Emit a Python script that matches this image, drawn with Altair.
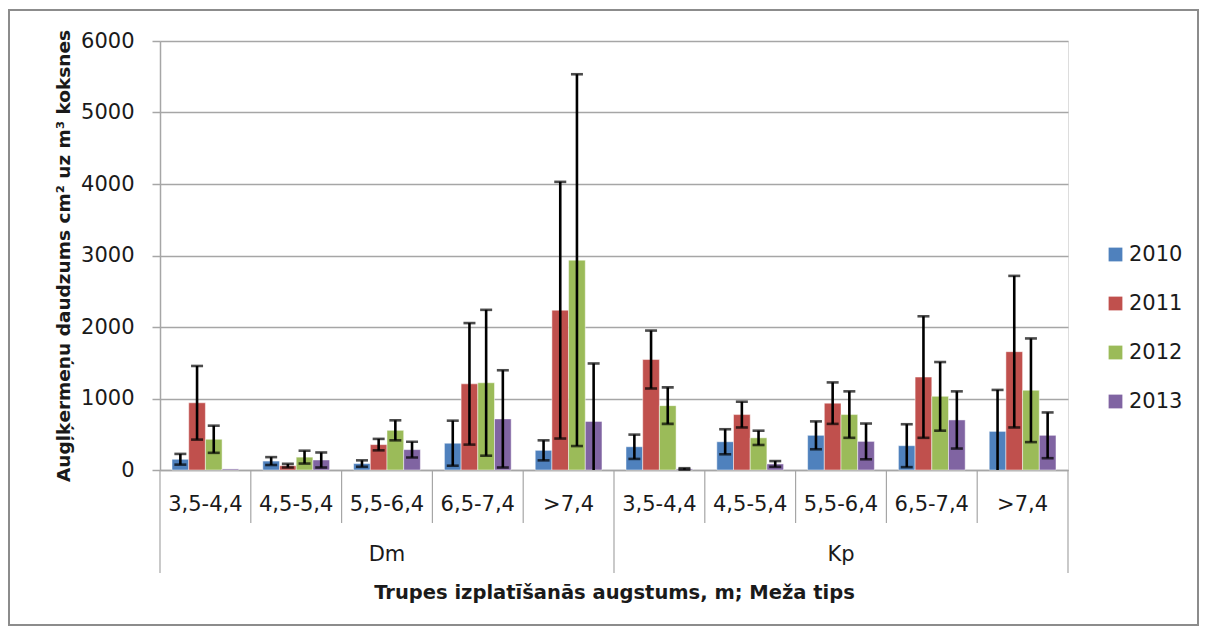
import altair as alt
import pandas as pd

groups = ["Dm", "Kp"]
heights = ["3,5-4,4", "4,5-5,4", "5,5-6,4", "6,5-7,4", ">7,4"]
years = ["2010", "2011", "2012", "2013"]
colors = ["#4F81BD", "#C0504D", "#9BBB59", "#8064A2"]

# values per year: Dm (5 heights) then Kp (5 heights)
vals = {
    "2010": [150, 125, 90, 375, 275, 325, 395, 485, 340, 540],
    "2011": [940, 60, 355, 1205, 2235, 1545, 775, 935, 1300, 1655],
    "2012": [430, 180, 555, 1220, 2935, 900, 450, 775, 1030, 1115],
    "2013": [15, 140, 285, 715, 680, 15, 85, 400, 700, 485],
}
errs = {
    "2010": [75, 55, 45, 315, 140, 170, 175, 195, 300, 580],
    "2011": [515, 25, 80, 850, 1795, 405, 180, 290, 850, 1060],
    "2012": [190, 90, 140, 1020, 2600, 255, 100, 325, 480, 725],
    "2013": [0, 105, 110, 680, 810, 10, 40, 250, 400, 320],
}

y_ticks = [0, 1000, 2000, 3000, 4000, 5000, 6000]

cats = [f"{g} {h}" for g in groups for h in heights]
cat_group = [g for g in groups for h in heights]
cat_height = [h for g in groups for h in heights]

rows = []
for y in years:
    for i, c in enumerate(cats):
        rows.append({"cat": c, "year": y, "v": vals[y][i], "e": errs[y][i]})
df = pd.DataFrame(rows)

cat_df = pd.DataFrame({"cat": cats, "label": cat_height, "group": cat_group,
                       "idx": list(range(len(cats)))})

W, H = 908, 429
FONT = "DejaVu Sans"
TXT = "#1a1a1a"
GRID = "#a6a6a6"

xscale = alt.Scale(domain=cats, paddingInner=0, paddingOuter=0)

x_enc = alt.X("cat:N", sort=cats, scale=xscale,
              axis=alt.Axis(labels=False, ticks=False, grid=False, domain=True,
                            domainColor=GRID, domainWidth=1.5,
                            title="Trupes izplatīšanās  augstums, m; Meža tips",
                            titleFont=FONT, titleFontSize=19.5, titleFontWeight="bold",
                            titleColor=TXT, titlePadding=113))
xo = alt.XOffset("year:N", sort=years, scale=alt.Scale(domain=years, paddingOuter=0.72, paddingInner=0))

y_enc = alt.Y("v:Q", scale=alt.Scale(domain=[0, 6000], nice=False),
              axis=alt.Axis(values=y_ticks, format="d", grid=True, gridColor=GRID, gridWidth=1.5,
                            domainColor=GRID, domainWidth=1.5, tickColor=GRID, tickWidth=1.5,
                            tickSize=8, labelFont=FONT, labelFontSize=21, labelColor=TXT,
                            labelPadding=18,
                            title="Augļķermeņu daudzums cm² uz m³ koksnes",
                            titleFont=FONT, titleFontSize=18.5, titleFontWeight="bold",
                            titleColor=TXT, titleX=-97, titleY=H / 2, titleAngle=-90,
                            titleAlign="center", titleBaseline="middle"))

base = alt.Chart(df)

bars = base.mark_bar(stroke="white", strokeWidth=0.8, strokeOpacity=0.6).encode(
    x=x_enc, xOffset=xo, y=y_enc,
    color=alt.Color("year:N", sort=years,
                    scale=alt.Scale(domain=years, range=colors),
                    legend=alt.Legend(title=None, orient="none", legendX=945, legendY=203,
                                      symbolType="square", symbolSize=190,
                                      symbolStrokeWidth=0, labelFont=FONT,
                                      labelFontSize=21, labelColor=TXT,
                                      rowPadding=27, labelOffset=3)),
)

err_base = base.transform_filter("datum.e > 0").transform_calculate(
    lo="max(0, datum.v - datum.e)", hi="datum.v + datum.e")

err_rule = err_base.mark_rule(color="black", strokeWidth=2.6).encode(
    x=alt.X("cat:N", sort=cats, scale=xscale), xOffset=xo,
    y=alt.Y("lo:Q"), y2="hi:Q")
cap_hi = err_base.mark_tick(color="black", thickness=2.6, size=12, orient="horizontal").encode(
    x=alt.X("cat:N", sort=cats, scale=xscale), xOffset=xo, y=alt.Y("hi:Q"))
cap_lo = err_base.transform_filter("datum.v - datum.e > 0").mark_tick(
    color="black", thickness=2.6, size=12, orient="horizontal").encode(
    x=alt.X("cat:N", sort=cats, scale=xscale), xOffset=xo, y=alt.Y("lo:Q"))

cbase = alt.Chart(cat_df)
cat_labels = cbase.mark_text(font=FONT, fontSize=21, color=TXT, baseline="middle").encode(
    x=alt.X("cat:N", sort=cats, scale=xscale), y=alt.value(H + 35), text="label:N")

group_labels = cbase.transform_filter("datum.idx % 5 == 2").mark_text(
    font=FONT, fontSize=21, color=TXT, baseline="middle").encode(
    x=alt.X("cat:N", sort=cats, scale=xscale), y=alt.value(H + 85), text="group:N")

sep_short = cbase.transform_filter("datum.idx % 5 != 0").mark_rule(color=GRID, strokeWidth=1.2).encode(
    x=alt.X("cat:N", sort=cats, scale=xscale, bandPosition=0),
    y=alt.value(H), y2=alt.value(H + 53))
sep_long = cbase.transform_filter("datum.idx % 5 == 0").mark_rule(color=GRID, strokeWidth=1.2).encode(
    x=alt.X("cat:N", sort=cats, scale=xscale, bandPosition=0),
    y=alt.value(H), y2=alt.value(H + 103))
sep_end = cbase.transform_filter("datum.idx == 9").mark_rule(color=GRID, strokeWidth=1.2).encode(
    x=alt.X("cat:N", sort=cats, scale=xscale, bandPosition=1),
    y=alt.value(H), y2=alt.value(H + 103))

frame = alt.Chart(pd.DataFrame({"a": [0]})).mark_rect(
    fill="transparent", stroke="#8c8c8c", strokeWidth=2).encode(
    x=alt.value(-151), x2=alt.value(1038), y=alt.value(-31), y2=alt.value(584))

chart = alt.layer(
    bars, err_rule, cap_hi, cap_lo, cat_labels, group_labels,
    sep_short, sep_long, sep_end, frame
).properties(
    width=W, height=H,
    padding={"left": 152, "top": 33, "right": 131, "bottom": 156},
    autosize=alt.AutoSizeParams(type="none"),
).configure_view(stroke=None).configure(font=FONT)

chart.save("out.html", embed_options={"renderer": "svg", "actions": False})
